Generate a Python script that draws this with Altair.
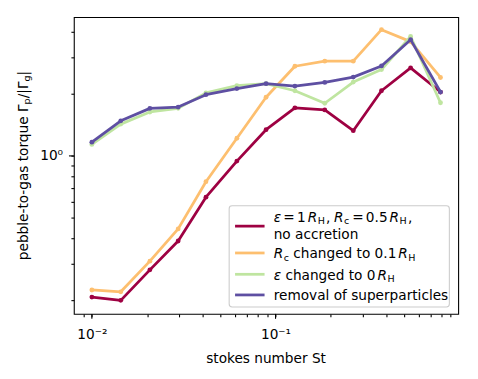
import altair as alt
import pandas as pd

# ---------------- data ----------------
stokes = [0.01, 0.01437, 0.0207, 0.0295, 0.0418, 0.0616, 0.0888, 0.1275, 0.1854, 0.265, 0.3775, 0.5438, 0.791]
torque_base = [0.207, 0.1995, 0.2805, 0.387, 0.631, 0.944, 1.34, 1.71, 1.67, 1.325, 2.07, 2.67, 2.04]
torque_rc01 = [0.224, 0.2195, 0.309, 0.443, 0.750, 1.218, 1.925, 2.72, 2.88, 2.88, 4.09, 3.58, 2.40]
torque_eps0 = [1.137, 1.426, 1.633, 1.70, 2.02, 2.19, 2.24, 2.07, 1.80, 2.28, 2.62, 3.79, 1.81]
torque_nosp = [1.166, 1.479, 1.70, 1.725, 1.98, 2.12, 2.24, 2.18, 2.27, 2.41, 2.73, 3.66, 2.04]

series_names = ["base", "rc01", "eps0", "nosp"]
series_values = [torque_base, torque_rc01, torque_eps0, torque_nosp]
series_colors = ["#9e0142", "#fdbf6f", "#bfe5a0", "#5e4fa2"]

x_ticks = [0.009, 0.01, 0.02, 0.03, 0.04, 0.05, 0.06, 0.07, 0.08, 0.09, 0.1,
           0.2, 0.3, 0.4, 0.5, 0.6, 0.7, 0.8, 0.9]
x_major = [0.01, 0.1]
y_ticks = [0.2, 0.3, 0.4, 0.5, 0.6, 0.7, 0.8, 0.9, 1, 2, 3, 4]
y_major = [1]

rows = []
for name, vals in zip(series_names, series_values):
    for s, v in zip(stokes, vals):
        rows.append({"series": name, "st": s, "torque": v})
df = pd.DataFrame(rows)

# ---------------- layout ----------------
W_PLOT, H_PLOT = 391, 302
FS = 13.9
SUB = 0.7
FONT = "DejaVu Sans"

EM = {' ': 0.318, '-': 0.361, '.': 0.318, ',': 0.318, '/': 0.337, '|': 0.337, '=': 0.838,
      '0': 0.636, '1': 0.636, '5': 0.636, 'a': 0.613, 'b': 0.635, 'c': 0.550, 'd': 0.635,
      'e': 0.615, 'f': 0.352, 'g': 0.635, 'h': 0.634, 'i': 0.278, 'k': 0.579, 'l': 0.278,
      'm': 0.974, 'n': 0.634, 'o': 0.612, 'p': 0.635, 'q': 0.635, 'r': 0.411, 's': 0.521,
      't': 0.392, 'u': 0.634, 'v': 0.592, 'H': 0.752, 'R': 0.695, 'S': 0.635,
      'Γ': 0.557, 'ε': 0.541}


def width(text, factor):
    return sum(EM.get(ch, 0.6) for ch in text) * FS * factor


def layout(segs, x0, y0, vertical=False):
    out = []
    cur = 0.0
    for text, fac, style, dy, gap in segs:
        cur += gap
        if vertical:
            out.append({"px": x0 + dy, "py": y0 - cur, "text": text, "size": FS * fac, "style": style})
        else:
            out.append({"px": x0 + cur, "py": y0 + dy, "text": text, "size": FS * fac, "style": style})
        cur += width(text, fac)
    return out


def total(segs):
    return sum(width(t, f) + g for t, f, _, _, g in segs)


SD = 2.5   # subscript drop
SD1 = 2.0  # subscript drop on the first (two-line) legend entry
SP = 0.318 * FS  # a normal space
legend_lines = [
    [("ε", 1, "italic", 0, 0), ("=", 1, "normal", 0, 2.3), ("1", 1, "normal", 0, 2.3),
     ("R", 1, "italic", 0, 2), ("H", SUB, "normal", SD1, 0.5), (",", 1, "normal", 0, 1.2),
     ("R", 1, "italic", 0, 3.6), ("c", SUB, "normal", SD1, 0.5), ("=", 1, "normal", 0, 3.0),
     ("0.5", 1, "normal", 0, 2.3), ("R", 1, "italic", 0, 2), ("H", SUB, "normal", SD1, 0.5),
     (",", 1, "normal", 0, 1.2)],
    [("no accretion", 1, "normal", 0, 0)],
    [("R", 1, "italic", 0, 0), ("c", SUB, "normal", SD, 0.5), ("changed to 0.1", 1, "normal", 0, SP),
     ("R", 1, "italic", 0, 2), ("H", SUB, "normal", SD, 0.5)],
    [("ε", 1, "italic", 0, 0), ("changed to 0", 1, "normal", 0, SP),
     ("R", 1, "italic", 0, 2), ("H", SUB, "normal", SD, 0.5)],
    [("removal of superparticles", 1, "normal", 0, 0)],
]
legend_baselines = [208.5, 225.5, 245.5, 267, 287.5]
LEG_TEXT_X = 203.3

text_rows = []
for segs, yb in zip(legend_lines, legend_baselines):
    text_rows += layout(segs, LEG_TEXT_X, yb)

ytitle = [("pebble-to-gas torque Γ", 1, "normal", 0, 0), ("p", SUB, "normal", SD, 0),
          ("/|Γ", 1, "normal", 0, 0), ("g", SUB, "normal", SD, 0), ("|", 1, "normal", 0, 0)]
ytitle_rows = layout(ytitle, -47, H_PLOT / 2 + total(ytitle) / 2, vertical=True)

text_df = pd.DataFrame(text_rows)
ytitle_df = pd.DataFrame(ytitle_rows)

legend_df = pd.DataFrame({"ly": [212.7, 240, 261.7, 282.7], "col": series_colors})

# ---------------- chart ----------------
x_scale = alt.Scale(type="log", domain=[0.00798, 0.9876], nice=False)
y_scale = alt.Scale(type="log", domain=[0.1715, 4.71], nice=False)

x_axis = alt.Axis(values=x_ticks, title=None, grid=False, domain=False,
                  labelExpr="datum.value == 0.01 ? '10⁻²' : (datum.value == 0.1 ? '10⁻¹' : '')",
                  tickSize=3, tickColor="black", tickWidth=1.1, labelFont=FONT, labelFontSize=FS,
                  labelColor="black", labelPadding=11, labelFlush=False, labelOverlap=False)
y_axis = alt.Axis(values=y_ticks, title=None, grid=False, domain=False,
                  labelExpr="datum.value == 1 ? '10⁰' : ''",
                  tickSize=3, tickColor="black", tickWidth=1.1, labelFont=FONT, labelFontSize=FS,
                  labelColor="black", labelPadding=8.5, labelFlush=False, labelOverlap=False)

X = alt.X("st:Q", scale=x_scale, axis=x_axis)
Y = alt.Y("torque:Q", scale=y_scale, axis=y_axis)

layers = []
for name, col in zip(series_names, series_colors):
    layers.append(
        alt.Chart(df).transform_filter(alt.datum.series == name)
        .mark_line(color=col, strokeWidth=2.8, strokeJoin="round",
                   point=alt.OverlayMarkDef(filled=True, size=24, color=col, opacity=1))
        .encode(x=X, y=Y)
    )

# longer (major) ticks
x_major_ticks = alt.Chart(pd.DataFrame({"st": x_major})).mark_rule(color="black", strokeWidth=1.1).encode(
    x=X, y=alt.value(H_PLOT), y2=alt.value(H_PLOT + 5))
y_major_ticks = alt.Chart(pd.DataFrame({"torque": y_major})).mark_rule(color="black", strokeWidth=1.1).encode(
    y=Y, x=alt.value(0), x2=alt.value(-5))

frame = alt.Chart(pd.DataFrame({"a": [0]})).mark_rect(
    fill="white", fillOpacity=0.8, stroke="#cccccc", strokeWidth=1.1, cornerRadius=3
).encode(x=alt.value(158), x2=alt.value(382), y=alt.value(192), y2=alt.value(295))

leg_lines = alt.Chart(legend_df).mark_rule(strokeWidth=2.8).encode(
    y=alt.Y("ly:Q", scale=None, axis=None),
    x=alt.value(164), x2=alt.value(194),
    color=alt.Color("col:N", scale=None, legend=None),
)


def text_layer(data, style, angle=0):
    return alt.Chart(data).transform_filter(alt.datum.style == style).mark_text(
        font=FONT, fontStyle=style, align="left", baseline="alphabetic", color="black", angle=angle
    ).encode(
        x=alt.X("px:Q", scale=None, axis=None),
        y=alt.Y("py:Q", scale=None, axis=None),
        text=alt.Text("text:N"),
        size=alt.Size("size:Q", scale=None, legend=None),
    )


xtitle = alt.Chart(pd.DataFrame({"t": ["stokes number St"]})).mark_text(
    font=FONT, fontSize=FS, align="center", baseline="alphabetic", color="black"
).encode(x=alt.value(W_PLOT / 2), y=alt.value(352), text="t:N")

chart = alt.layer(
    *layers, x_major_ticks, y_major_ticks, frame, leg_lines,
    text_layer(text_df, "normal"), text_layer(text_df, "italic"),
    text_layer(ytitle_df, "normal", angle=270), xtitle
).properties(
    width=W_PLOT, height=H_PLOT,
    autosize=alt.AutoSizeParams(type="none"),
    padding={"left": 67, "top": 6, "right": 12, "bottom": 63},
    background="white",
).configure_view(stroke="black", strokeWidth=1.1)

chart.save("out.html", embed_options={"renderer": "svg", "actions": False})
